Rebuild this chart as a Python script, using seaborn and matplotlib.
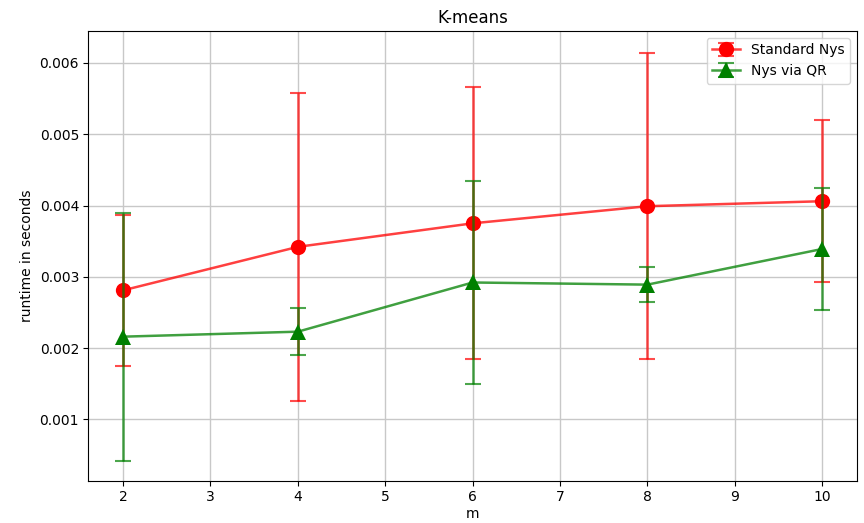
import numpy as np
import pandas as pd
import matplotlib
matplotlib.use("Agg")
import matplotlib.pyplot as plt
import seaborn as sns
from matplotlib.legend_handler import HandlerTuple

m_values = [2, 4, 6, 8, 10]
std_mean = [0.00281, 0.00342, 0.00375, 0.00399, 0.00406]
std_err = [0.00106, 0.00216, 0.00191, 0.00215, 0.00114]
qr_mean = [0.00216, 0.00223, 0.00292, 0.00289, 0.00339]
qr_err = [0.00174, 0.00033, 0.00143, 0.00025, 0.00086]

series_names = ["Standard Nys", "Nys via QR"]

plt.rcParams["font.family"] = ["DejaVu Sans"]
fig = plt.figure(figsize=(8.64, 5.23), dpi=100)
ax = fig.add_axes([0.102, 0.080, 0.890, 0.861])

styles = [
    dict(mean=std_mean, err=std_err, color="red", marker="o", name=series_names[0]),
    dict(mean=qr_mean, err=qr_err, color="green", marker="^", name=series_names[1]),
]
handles = []
for s in styles:
    df = pd.DataFrame({"m": m_values, "runtime": s["mean"]})
    eb = ax.errorbar(m_values, s["mean"], yerr=s["err"], fmt="none", ecolor=s["color"],
                     elinewidth=1.8, capsize=6, capthick=1.5, alpha=0.7)
    sns.lineplot(data=df, x="m", y="runtime", ax=ax, color=s["color"], linewidth=1.8,
                 alpha=0.75, legend=False)
    line = ax.lines[-1]
    ax.plot(m_values, s["mean"], linestyle="none", marker=s["marker"], color=s["color"],
            markersize=11, markeredgewidth=0)
    mk = ax.lines[-1]
    handles.append((eb, line, mk))

ax.set_xlim(1.6, 10.4)
ax.set_ylim(0.000133, 0.00645)
ax.set_xticks(range(2, 11))
ax.set_yticks([0.001, 0.002, 0.003, 0.004, 0.005, 0.006])
ax.grid(True, color="#c8c8c8", linewidth=1)
ax.set_axisbelow(True)
ax.tick_params(labelsize=10, pad=3)
ax.set_title("K-means", fontsize=12)
ax.set_xlabel("m", fontsize=10, labelpad=2)
ax.set_ylabel("runtime in seconds", fontsize=10)
ax.legend(handles=handles, labels=series_names, loc="upper right", fontsize=10,
          handler_map={tuple: HandlerTuple(ndivide=1, pad=0)})

fig.savefig("out.png", dpi=100)
